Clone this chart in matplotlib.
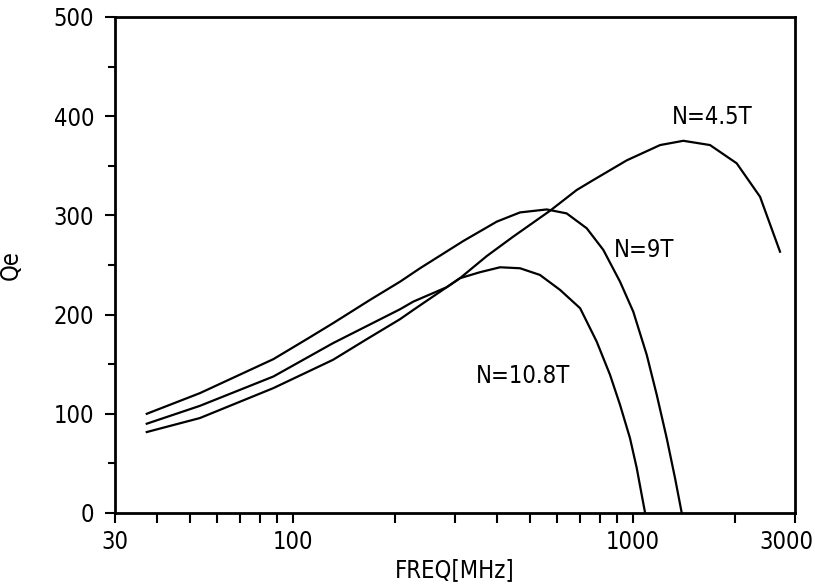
import matplotlib.pyplot as plt
from matplotlib import font_manager as fm
from matplotlib.transforms import ScaledTranslation
from matplotlib.ticker import FixedLocator, FixedFormatter, NullFormatter

# prefer the narrowest condensed sans available for the lettering
stretch_rank = {'extra-condensed': 0, 'condensed': 1, 'semi-condensed': 2}
narrow = None
for f in fm.fontManager.ttflist:
    fname = f.fname.lower()
    if any(k in fname for k in ('bold', 'oblique', 'italic', 'mono', 'serif', 'light')):
        continue
    rank = stretch_rank.get(f.stretch, 3 if ('Narrow' in f.name or 'Condensed' in f.name) else None)
    if rank is None:
        continue
    if narrow is None or rank < stretch_rank.get(narrow.stretch, 3):
        narrow = f
if narrow is not None:
    plt.rcParams['font.family'] = [narrow.name, 'DejaVu Sans']
    plt.rcParams['font.stretch'] = narrow.stretch
else:
    plt.rcParams['font.family'] = ['Roboto', 'DejaVu Sans']

tick_fs = 17
text_fs = 17

# Qe vs frequency for three winding counts
freq_9t = [37.2, 53.3, 87.7, 109.9, 131.3, 168.7, 206.8, 236.7, 317.4, 398, 466, 558,
           639, 732, 819, 917, 1003, 1099, 1176, 1258, 1331, 1393]
qe_9t = [100, 120.8, 155.1, 175.2, 191.3, 214.8, 233.2, 246.7, 274.2, 293.7, 303, 306,
         302, 287, 265.2, 233.2, 203, 159.4, 119.1, 75.5, 35.2, 0]

freq_108t = [37.2, 53.3, 87.7, 131.3, 206.8, 226.2, 283.6, 310.3, 355, 407, 466, 533,
             611, 700, 783, 857, 917, 981, 1027, 1062, 1087]
qe_108t = [90, 108, 137.6, 171.2, 205.4, 213.1, 227.6, 236.7, 242.7, 247.7, 246.7, 240,
           224.9, 206.4, 172.8, 139.3, 109.1, 75.5, 45.3, 18.4, 0]

freq_45t = [37.2, 53.3, 87.7, 131.3, 165, 206.8, 226.2, 310.3, 372, 445, 571, 684,
            765, 960, 1203, 1408, 1687, 2021, 2367, 2710]
qe_45t = [81.6, 95.7, 125.9, 154.4, 175.2, 195.4, 204.7, 236.7, 259, 278.6, 304.7,
          325.6, 335.6, 355.5, 370.9, 375.2, 370.9, 352.5, 318.8, 263.4]

x_major = [30, 100, 1000, 3000]
x_minor = [40, 50, 60, 70, 80, 90, 200, 300, 400, 500, 600, 700, 800, 900, 2000]
y_major = [0, 100, 200, 300, 400, 500]
y_minor = [50, 150, 250, 350, 450]

fig = plt.figure(figsize=(8.15, 5.84), dpi=100)
ax = fig.add_axes([0.1411, 0.1216, 0.8344, 0.8493])

for f, q in [(freq_9t, qe_9t), (freq_108t, qe_108t), (freq_45t, qe_45t)]:
    ax.plot(f, q, color='black', linewidth=1.6)

ax.set_xscale('log')
ax.set_xlim(30, 3000)
ax.set_ylim(0, 500)

ax.xaxis.set_major_locator(FixedLocator(x_major))
ax.xaxis.set_major_formatter(FixedFormatter([str(v) for v in x_major]))
ax.xaxis.set_minor_locator(FixedLocator(x_minor))
ax.xaxis.set_minor_formatter(NullFormatter())
ax.yaxis.set_major_locator(FixedLocator(y_major))
ax.yaxis.set_minor_locator(FixedLocator(y_minor))

ax.tick_params(which='both', direction='out', width=1.5, labelsize=tick_fs)
ax.tick_params(axis='x', which='both', length=7, pad=5)
ax.tick_params(axis='y', which='major', length=7, pad=8)
ax.tick_params(axis='y', which='minor', length=5)

# nudge the last x label so it stays inside the figure
last = ax.xaxis.get_major_ticks()[-1].label1
last.set_transform(last.get_transform() + ScaledTranslation(-0.09, 0, fig.dpi_scale_trans))

for s in ax.spines.values():
    s.set_linewidth(2)

ax.set_xlabel('FREQ[MHz]', fontsize=text_fs)
ax.set_ylabel('Qe', fontsize=text_fs)
ax.xaxis.set_label_coords(0.5, -0.09)
ax.yaxis.set_label_coords(-0.135, 0.5)

ax.text(1707, 399, 'N=4.5T', fontsize=text_fs, ha='center', va='center')
ax.text(1077, 265, 'N=9T', fontsize=text_fs, ha='center', va='center')
ax.text(476, 137.6, 'N=10.8T', fontsize=text_fs, ha='center', va='center')

fig.savefig('out.png', dpi=100)
